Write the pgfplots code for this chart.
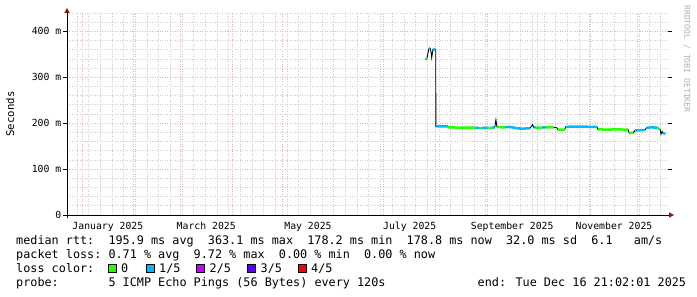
\documentclass[border=0pt]{standalone}
\usepackage{fontspec}
\newfontfamily\rrd{DejaVu Sans Mono}
\usepackage{pgfplots}
\pgfplotsset{compat=1.18}
\usetikzlibrary{arrows.meta}
\definecolor{mgrid}{RGB}{234,175,175}
\definecolor{gridc}{RGB}{205,205,205}
\definecolor{arrowc}{RGB}{140,20,20}
\definecolor{lzero}{RGB}{38,255,0}
\definecolor{lone}{RGB}{0,184,255}
\definecolor{ltwo}{RGB}{200,0,255}
\definecolor{lthree}{RGB}{85,0,255}
\definecolor{lfour}{RGB}{255,0,0}
\newcommand{\legfont}{\rrd\fontsize{11.8}{14}\selectfont}
\newcommand{\axfont}{\rrd\fontsize{9.8}{11}\selectfont}
\newcommand{\legtxt}[3]{\node[anchor=base west, inner sep=0pt, font=\legfont] at ({16pt+#1*7.1pt}, #2) {#3};}
\begin{document}
\begin{tikzpicture}
\path[use as bounding box, fill=white] (0,0) rectangle (697pt,297pt);
\begin{axis}[
  at={(67pt,82pt)}, anchor=south west,
  scale only axis, width=601pt, height=202pt,
  xmin=-9, xmax=351.4, ymin=0, ymax=440,
  axis line style={draw=none},
  xtick={0,31,59,90,120,151,181,212,243,273,304,334},
  xticklabels={},
  minor xtick={-3,4,...,347},
  extra x ticks={15.5,74.5,135.5,196.5,258,319},
  extra x tick labels={January 2025,March 2025,May 2025,July 2025,September 2025,November 2025},
  extra x tick style={grid=none, xticklabel style={anchor=base, yshift=-11pt}},
  xtick style={draw=none},
  ytick={0,100,200,300,400},
  yticklabels={0,100 m,200 m,300 m,400 m},
  minor ytick={20,40,...,440},
  ytick style={black, line width=0.8pt},
  minor y tick style={draw=none},
  tick align=outside, major tick length=3.5pt,
  grid=both,
  major grid style={mgrid, line width=0.7pt, dash pattern=on 1pt off 1.5pt},
  minor grid style={gridc, line width=0.7pt, dash pattern=on 1pt off 1.5pt},
  ticklabel style={font=\axfont, text=black},
  yticklabel style={anchor=east, inner sep=0pt, xshift=-2pt},
  ylabel={Seconds},
  ylabel style={at={(rel axis cs:-0.0948,0.5)}, anchor=center, font=\rrd\fontsize{10.7}{12}\selectfont},
  unbounded coords=jump,
]
% median (black)
\addplot[black, line width=0.9pt] coordinates {
(205.9,341) (206.7,339) (207.3,350) (208.0,362) (208.8,363) (209.3,355) (209.7,343) (210.4,360) (211.8,361) (212.1,360) (212.2,193)
(215,193) (219.5,193) (219.6,191) (222,191) (226,190) (230,190.5) (235.7,190) (238,189.5) (240,189.5) (243,190) (246,190) (247.5,191)
(248.2,207) (248.8,192) (249,191.5) (252,191) (254,191) (255.4,192) (258,191) (260.8,189) (264,188) (268.6,189) (270.2,197) (270.8,191)
(272,190.5) (275,190.5) (276,190.5) (278,191) (283,191) (284.8,190) (285.2,186) (289.5,186) (290,192) (295,192.5) (300,192.5) (305,192)
(308.8,192) (309.3,186.5) (315,186) (320,186.5) (327.4,186) (328.2,178.5) (330.5,179) (331.6,184) (335,185) (337.6,185) (338.5,190)
(341.8,191) (344.8,190) (346.6,187) (347.2,176) (347.8,182) (348.4,178) (349.8,177)
};
% loss 0 (green)
\addplot[lzero, line width=2.5pt] coordinates {
(205.9,341) (206.7,339) (206.8,nan)
(219.5,191) (222,191) (226,190) (230,190.5) (235.7,190) (235.8,nan)
(238,189.5) (240,189.5) (240.1,nan)
(243,190) (246,190) (246.1,nan)
(249,191.5) (252,191) (254,191) (254.1,nan)
(272,190.5) (275,190.5) (276,190.5) (276.1,nan)
(278,191) (283,191) (283.1,nan)
(285.2,186) (289.5,186) (289.6,nan)
(309.5,186.5) (315,186) (320,186.5) (327.4,186) (327.5,nan)
(328.2,178.5) (330.5,179) (330.6,nan)
(344.8,190) (346.6,187)
};
% loss 1/5 (blue)
\addplot[lone, line width=2.5pt] coordinates {
(208.0,362) (208.8,363) (208.9,nan)
(210.4,360) (211.8,361) (211.9,nan)
(212.3,193) (215,193) (219.5,193) (219.6,nan)
(235.7,190) (238,189.5) (238.1,nan)
(240,189.5) (243,190) (243.1,nan)
(246,190) (247.5,191) (247.6,nan)
(254,191) (255.4,192) (258,191) (260.8,189) (264,188) (268.6,189) (268.7,nan)
(270.8,191) (272,190.5) (272.1,nan)
(276,190.5) (278,191) (278.1,nan)
(290,192) (295,192.5) (300,192.5) (305,192) (308.8,192) (308.9,nan)
(331.6,184) (335,185) (337.6,185) (337.7,nan)
(338.5,190) (341.8,191) (344.8,190) (344.9,nan)
(348.4,178) (349.8,177)
};
\end{axis}
% axes with arrows
\draw[black, line width=0.9pt] (67pt,78.5pt) -- (67pt,285pt);
\fill[arrowc] (64.3pt,284pt) -- (69.7pt,284pt) -- (67pt,289pt) -- cycle;
\draw[black, line width=0.9pt] (64pt,82pt) -- (670pt,82pt);
\fill[arrowc] (669pt,84.7pt) -- (669pt,79.3pt) -- (674pt,82pt) -- cycle;
% watermark
\node[rotate=-90, anchor=center, inner sep=0pt, text={rgb,255:red,175;green,175;blue,175}, font=\rrd\fontsize{8.1}{9}\selectfont] at (687pt,238pt) {RRDTOOL / TOBI OETIKER};
% legend
\legtxt{0}{52pt}{median rtt:}
\legtxt{13}{52pt}{195.9 ms avg}
\legtxt{27}{52pt}{363.1 ms max}
\legtxt{41}{52pt}{178.2 ms min}
\legtxt{55}{52pt}{178.8 ms now}
\legtxt{69}{52pt}{32.0 ms sd}
\legtxt{81}{52pt}{6.1}
\legtxt{87}{52pt}{am/s}
\legtxt{0}{38pt}{packet loss:}
\legtxt{13}{38pt}{0.71 \% avg}
\legtxt{25}{38pt}{9.72 \% max}
\legtxt{37}{38pt}{0.00 \% min}
\legtxt{49}{38pt}{0.00 \% now}
\legtxt{0}{24pt}{loss color:}
\filldraw[fill=lzero, draw=black, line width=0.7pt] (108pt,24.7pt) rectangle (116pt,32.7pt);
\filldraw[fill=lone, draw=black, line width=0.7pt] (146pt,24.7pt) rectangle (154pt,32.7pt);
\filldraw[fill=ltwo, draw=black, line width=0.7pt] (196.5pt,24.7pt) rectangle (204.5pt,32.7pt);
\filldraw[fill=lthree, draw=black, line width=0.7pt] (247.5pt,24.7pt) rectangle (255.5pt,32.7pt);
\filldraw[fill=lfour, draw=black, line width=0.7pt] (298pt,24.7pt) rectangle (306pt,32.7pt);
\node[anchor=base west, inner sep=0pt, font=\legfont] at (121pt,24pt) {0};
\node[anchor=base west, inner sep=0pt, font=\legfont] at (159pt,24pt) {1/5};
\node[anchor=base west, inner sep=0pt, font=\legfont] at (209.5pt,24pt) {2/5};
\node[anchor=base west, inner sep=0pt, font=\legfont] at (260.5pt,24pt) {3/5};
\node[anchor=base west, inner sep=0pt, font=\legfont] at (311pt,24pt) {4/5};
\legtxt{0}{10pt}{probe:}
\legtxt{13}{10pt}{5 ICMP Echo Pings (56 Bytes) every 120s}
\legtxt{65}{10pt}{end: Tue Dec 16 21:02:01 2025}
\end{tikzpicture}
\end{document}
